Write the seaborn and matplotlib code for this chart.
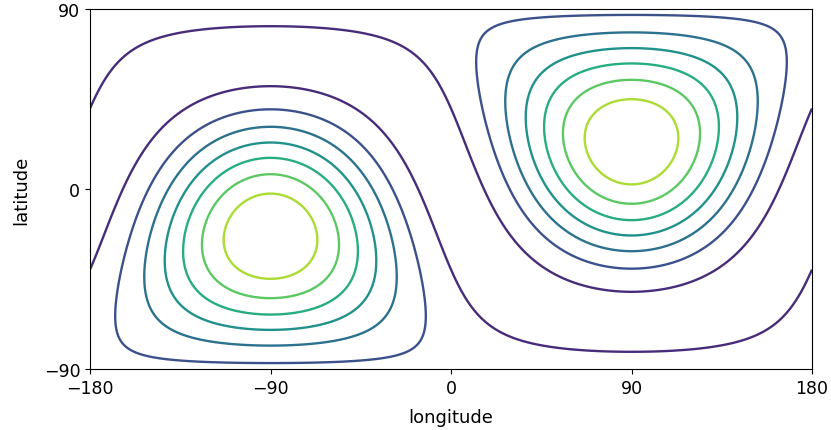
import numpy as np
import matplotlib
matplotlib.use("Agg")
import matplotlib.pyplot as plt
import seaborn as sns

# axis of the field (the right-hand high sits here, the left one is its antipode)
axis_lon = 90.0
axis_lat = 23.6

# contour levels (first and last lie outside the data, they only set the colours)
levels = [-0.066, 0.067, 0.200, 0.334, 0.468, 0.601, 0.735, 0.868, 1.002]

lon_ticks = [-180, -90, 0, 90, 180]
lat_ticks = [-90, 0, 90]

sns.set_style("ticks", {"axes.edgecolor": "black", "xtick.color": "black",
                        "ytick.color": "black", "text.color": "black",
                        "axes.labelcolor": "black"})
plt.rcParams["font.family"] = ["DejaVu Sans"]
plt.rcParams["xtick.labelsize"] = 12.5
plt.rcParams["ytick.labelsize"] = 12.5
plt.rcParams["axes.labelsize"] = 13

# grid
lon = np.linspace(-180, 180, 361)
lat = np.linspace(-90, 90, 181)
LON, LAT = np.meshgrid(lon, lat)
lo, la = np.deg2rad(LON), np.deg2rad(LAT)
a_lo, a_la = np.deg2rad(axis_lon), np.deg2rad(axis_lat)
proj = (np.cos(la) * np.cos(lo) * np.cos(a_la) * np.cos(a_lo)
        + np.cos(la) * np.sin(lo) * np.cos(a_la) * np.sin(a_lo)
        + np.sin(la) * np.sin(a_la))
field = proj ** 2

fig = plt.figure(figsize=(8.31, 4.31), dpi=100)
ax = fig.add_axes([90 / 831, 61 / 431, 722 / 831, 360 / 431])
cmap = sns.color_palette("viridis", as_cmap=True)
ax.contour(LON, LAT, field, levels=levels, cmap=cmap, linewidths=1.7)

ax.set_xlim(-180, 180)
ax.set_ylim(-90, 90)
ax.set_xticks(lon_ticks)
ax.set_yticks(lat_ticks)
ax.set_xticklabels([str(t).replace("-", "\u2212") for t in lon_ticks])
ax.set_yticklabels([str(t).replace("-", "\u2212") for t in lat_ticks])
ax.set_xlabel("longitude", labelpad=8)
ax.set_ylabel("latitude", labelpad=10)
for s in ax.spines.values():
    s.set_visible(True)
    s.set_linewidth(0.8)

fig.savefig("out.png", dpi=100)
